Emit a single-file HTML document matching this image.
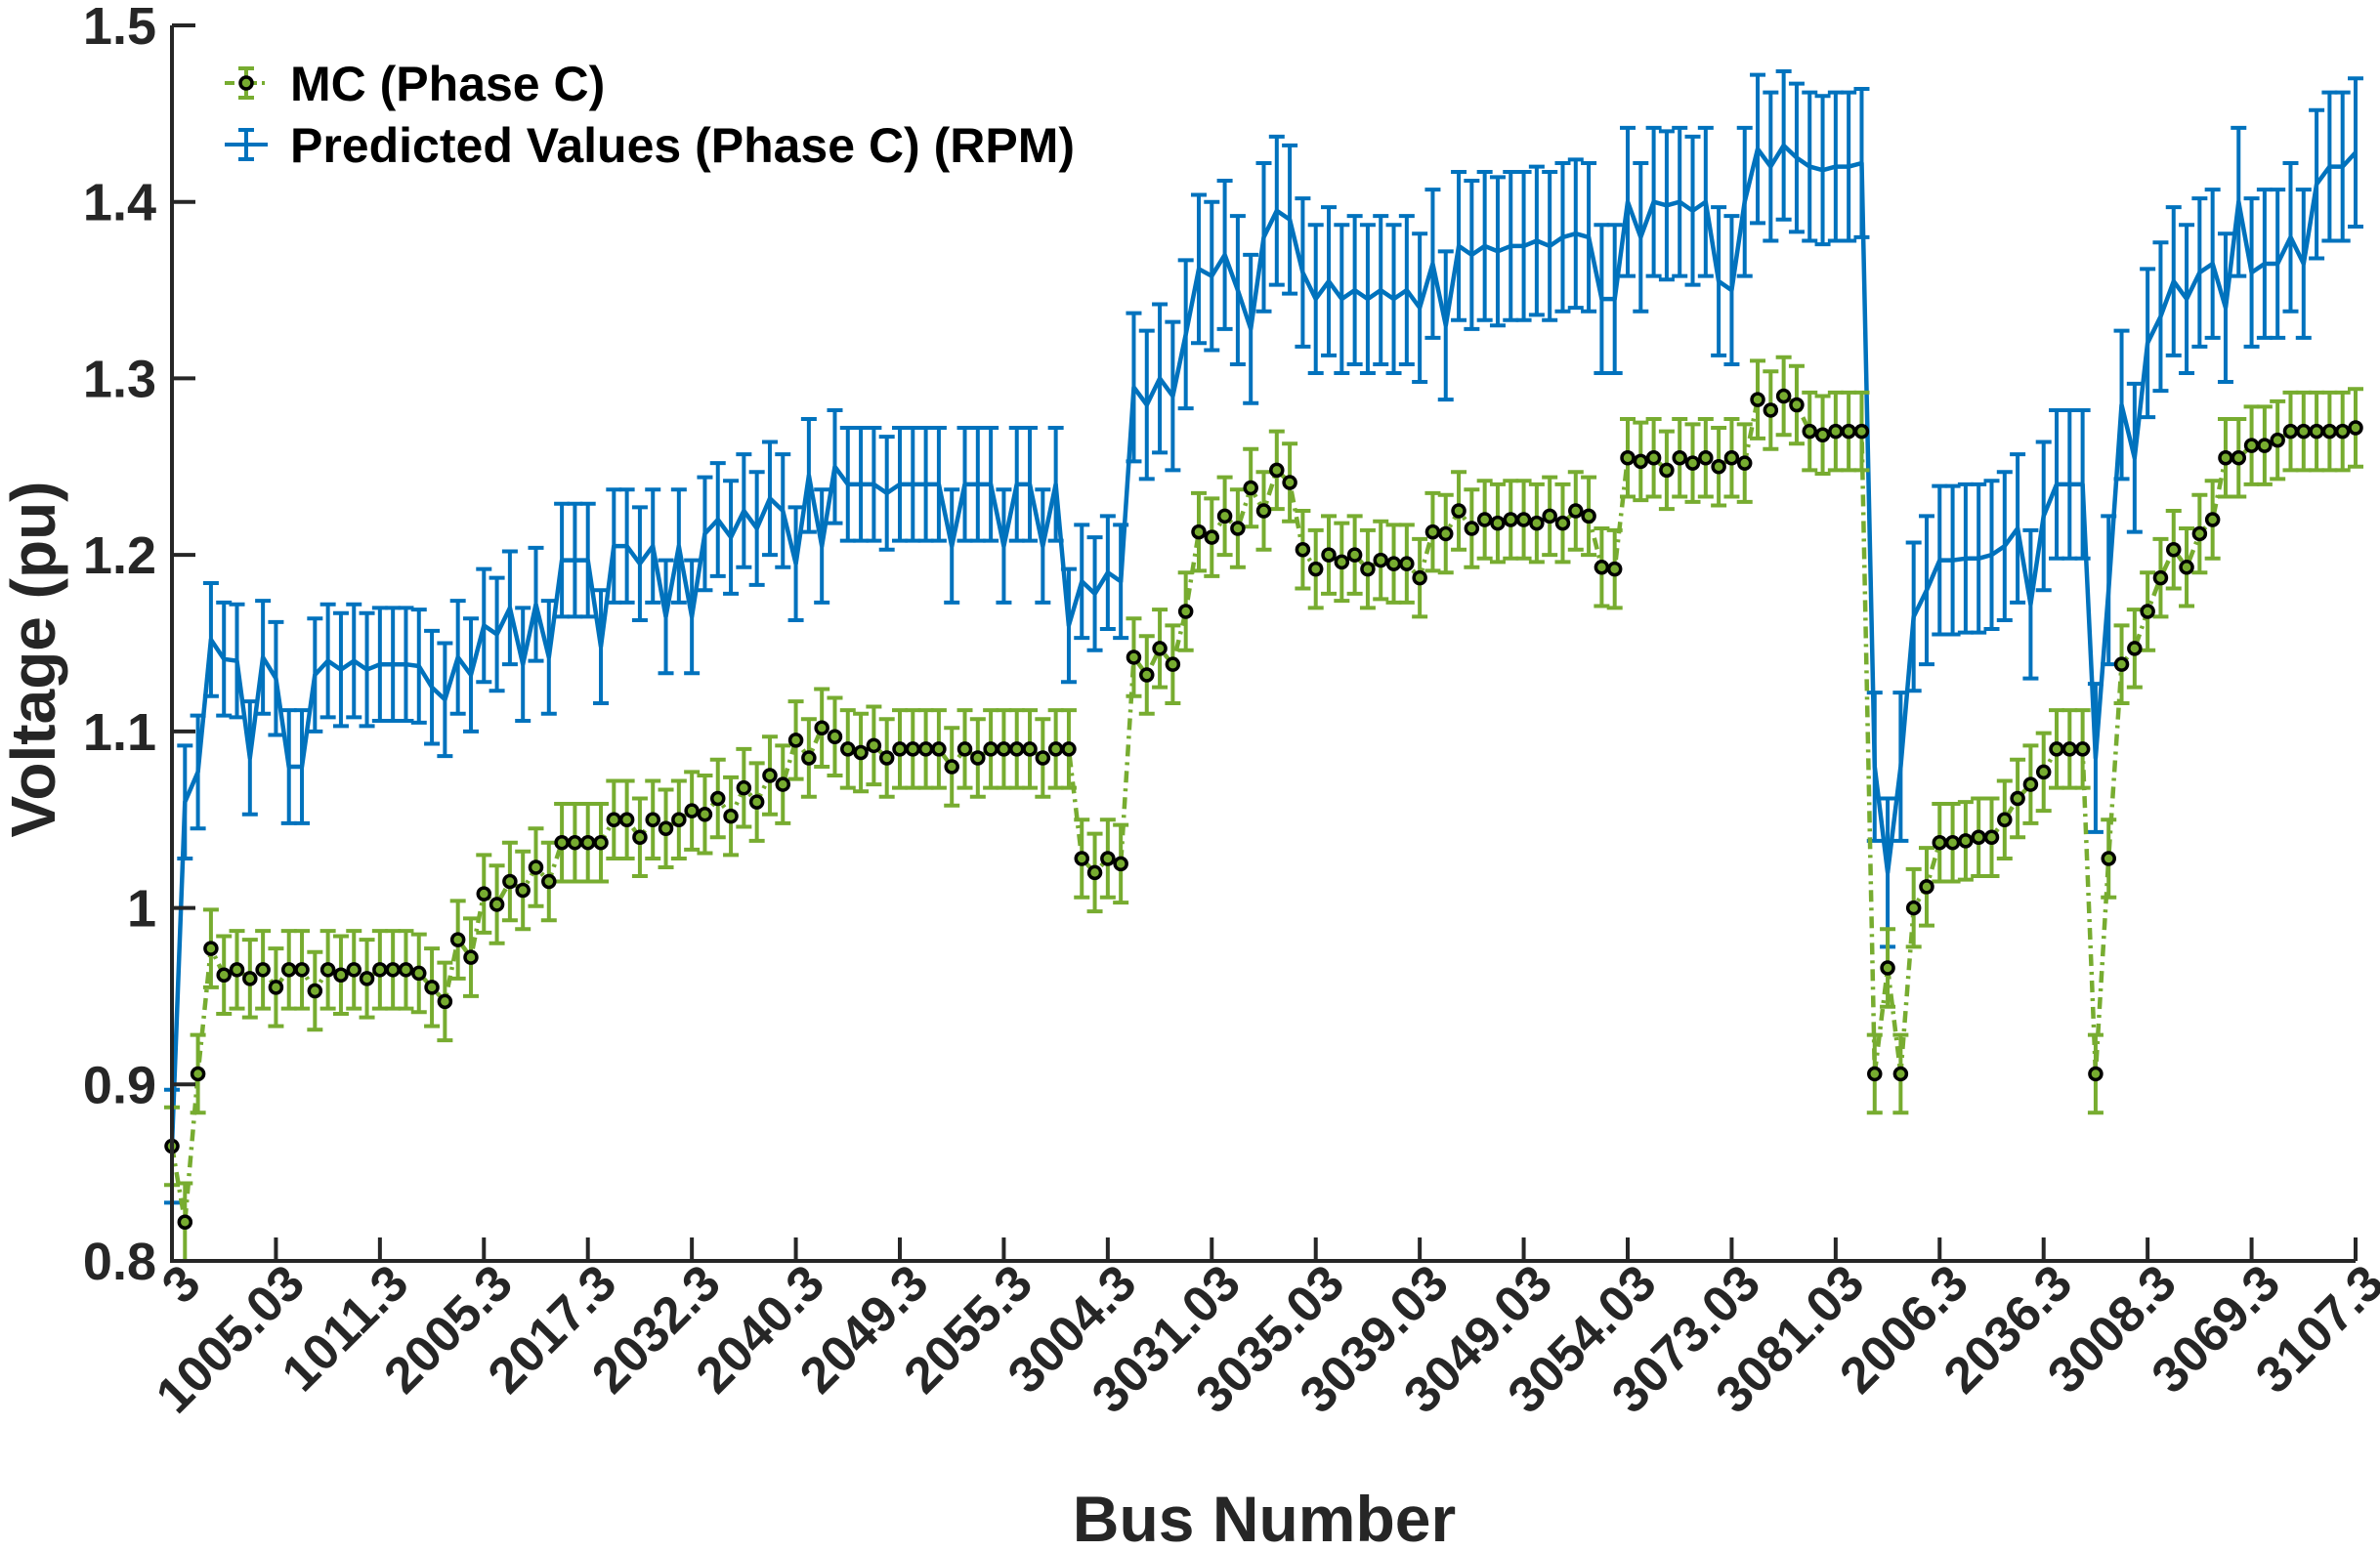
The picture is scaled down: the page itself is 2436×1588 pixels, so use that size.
<!DOCTYPE html>
<html><head><meta charset="utf-8"><style>
html,body{margin:0;padding:0;background:#fff}
svg{display:block;font-family:"Liberation Sans",Arial,sans-serif;font-weight:bold}
</style></head><body>
<svg id="chart" width="2436" height="1588" viewBox="0 0 2436 1588" xmlns="http://www.w3.org/2000/svg">
<g id="grid"></g>
<g id="series"></g>
<g id="axes"></g>
<text transform="translate(56,675) rotate(-90)" text-anchor="middle" font-size="64" fill="#262626">Voltage (pu)</text>
<text x="1294" y="1578" text-anchor="middle" font-size="66" fill="#262626">Bus Number</text>
<g>
  <g>
    <line x1="230" y1="85" x2="274" y2="85" stroke="#77AC30" stroke-width="4" stroke-dasharray="10,5,3,5"/>
    <line x1="252" y1="70" x2="252" y2="100" stroke="#77AC30" stroke-width="4"/>
    <line x1="244" y1="70" x2="260" y2="70" stroke="#77AC30" stroke-width="4"/>
    <line x1="244" y1="100" x2="260" y2="100" stroke="#77AC30" stroke-width="4"/>
    <circle cx="252" cy="85" r="6" fill="#77AC30" stroke="#000" stroke-width="3.5"/>
    <text x="297" y="103" font-size="50" fill="#000">MC (Phase C)</text>
  </g>
  <g>
    <line x1="230" y1="148" x2="274" y2="148" stroke="#0072BD" stroke-width="4"/>
    <line x1="252" y1="133" x2="252" y2="163" stroke="#0072BD" stroke-width="4"/>
    <line x1="244" y1="133" x2="260" y2="133" stroke="#0072BD" stroke-width="4"/>
    <line x1="244" y1="163" x2="260" y2="163" stroke="#0072BD" stroke-width="4"/>
    <text x="297" y="166" font-size="50" fill="#000">Predicted Values (Phase C) (RPM)</text>
  </g>
</g>
</svg>
<script>
const tickLabels=['3','1005.03','1011.3','2005.3','2017.3','2032.3','2040.3','2049.3','2055.3','3004.3','3031.03','3035.03','3039.03','3049.03','3054.03','3073.03','3081.03','2006.3','2036.3','3008.3','3069.3','3107.3'];
const yTicks=[0.8,0.9,1,1.1,1.2,1.3,1.4,1.5];
const mcValues=[0.865,0.822,0.906,0.977,0.962,0.965,0.960,0.965,0.955,0.965,0.965,0.953,0.965,0.962,0.965,0.960,0.965,0.965,0.965,0.963,0.955,0.947,0.982,0.972,1.008,1.002,1.015,1.010,1.023,1.015,1.037,1.037,1.037,1.037,1.050,1.050,1.040,1.050,1.045,1.050,1.055,1.053,1.062,1.052,1.068,1.060,1.075,1.070,1.095,1.085,1.102,1.097,1.090,1.088,1.092,1.085,1.090,1.090,1.090,1.090,1.080,1.090,1.085,1.090,1.090,1.090,1.090,1.085,1.090,1.090,1.028,1.020,1.028,1.025,1.142,1.132,1.147,1.138,1.168,1.213,1.210,1.222,1.215,1.238,1.225,1.248,1.241,1.203,1.192,1.200,1.196,1.200,1.192,1.197,1.195,1.195,1.187,1.213,1.212,1.225,1.215,1.220,1.218,1.220,1.220,1.218,1.222,1.218,1.225,1.222,1.193,1.192,1.255,1.253,1.255,1.248,1.255,1.252,1.255,1.250,1.255,1.252,1.288,1.282,1.290,1.285,1.270,1.268,1.270,1.270,1.270,0.906,0.966,0.906,1.000,1.012,1.037,1.037,1.038,1.040,1.040,1.050,1.062,1.070,1.077,1.090,1.090,1.090,0.906,1.028,1.138,1.147,1.168,1.187,1.203,1.193,1.212,1.220,1.255,1.255,1.262,1.262,1.265,1.270,1.270,1.270,1.270,1.270,1.272];
const mcErr=0.022;
const rpmValues=[0.865,1.060,1.077,1.152,1.141,1.140,1.085,1.142,1.130,1.080,1.080,1.132,1.140,1.135,1.140,1.135,1.138,1.138,1.138,1.137,1.125,1.118,1.142,1.132,1.160,1.155,1.170,1.138,1.172,1.142,1.197,1.197,1.197,1.148,1.205,1.205,1.195,1.205,1.165,1.205,1.165,1.212,1.220,1.210,1.225,1.215,1.232,1.225,1.195,1.245,1.205,1.250,1.240,1.240,1.240,1.235,1.240,1.240,1.240,1.240,1.205,1.240,1.240,1.240,1.205,1.240,1.240,1.205,1.240,1.160,1.185,1.178,1.190,1.185,1.295,1.285,1.300,1.290,1.325,1.362,1.358,1.370,1.350,1.328,1.380,1.395,1.390,1.360,1.345,1.355,1.345,1.350,1.345,1.350,1.345,1.350,1.340,1.365,1.330,1.375,1.370,1.375,1.372,1.375,1.375,1.378,1.375,1.380,1.382,1.380,1.345,1.345,1.400,1.380,1.400,1.398,1.400,1.395,1.400,1.355,1.350,1.400,1.430,1.420,1.432,1.425,1.420,1.418,1.420,1.420,1.422,1.080,1.020,1.080,1.165,1.180,1.197,1.197,1.198,1.198,1.200,1.205,1.215,1.172,1.222,1.240,1.240,1.240,1.085,1.180,1.285,1.255,1.320,1.335,1.355,1.345,1.360,1.365,1.340,1.400,1.360,1.365,1.365,1.380,1.365,1.410,1.420,1.420,1.428];
const rpmErrLow=0.032, rpmErrHigh=0.042;

const L=176,R=2411,T=26,B=1291,N=mcValues.length;
const xs=i=>L+(R-L)*i/(N-1);
const ys=v=>B-(v-0.8)/(1.5-0.8)*(B-T);
const NS='http://www.w3.org/2000/svg';
function mk(tag,attrs,parent){const e=document.createElementNS(NS,tag);for(const k in attrs)e.setAttribute(k,attrs[k]);parent.appendChild(e);return e;}
const S=document.getElementById('series'),A=document.getElementById('axes');

let d='';
rpmValues.forEach((v,i)=>{d+=(i?'L':'M')+xs(i).toFixed(1)+' '+ys(v).toFixed(1);});
const rpmG=mk('g',{},S);


rpmValues.forEach((v,i)=>{
  const e=i<74?rpmErrLow:rpmErrHigh,x=xs(i);
  const eb=mk('path',{d:`M${x} ${ys(v-e)}L${x} ${ys(v+e)}M${x-8} ${ys(v-e)}L${x+8} ${ys(v-e)}M${x-8} ${ys(v+e)}L${x+8} ${ys(v+e)}`,stroke:'#0072BD','stroke-width':4,fill:'none'},rpmG);
  
  
});
const rl=mk('path',{d:d,stroke:'#0072BD','stroke-width':4.5,fill:'none','stroke-linejoin':'round'},rpmG);



const mcG=mk('g',{},S);


mcValues.forEach((v,i)=>{
  const x=xs(i);
  const eb=mk('path',{d:`M${x} ${ys(v-mcErr)}L${x} ${ys(v+mcErr)}M${x-8} ${ys(v-mcErr)}L${x+8} ${ys(v-mcErr)}M${x-8} ${ys(v+mcErr)}L${x+8} ${ys(v+mcErr)}`,stroke:'#77AC30','stroke-width':4,fill:'none'},mcG);
  
  
});
let d2='';
mcValues.forEach((v,i)=>{d2+=(i?'L':'M')+xs(i).toFixed(1)+' '+ys(v).toFixed(1);});
const ml=mk('path',{d:d2,stroke:'#77AC30','stroke-width':4.5,fill:'none','stroke-dasharray':'12,6,3,6'},mcG);


mcValues.forEach((v,i)=>{
  const c=mk('circle',{cx:xs(i),cy:ys(v),r:6,fill:'#77AC30',stroke:'#000','stroke-width':3.5},mcG);
  
  
});

const ax=mk('path',{d:`M${L} ${T}L${L} ${B}L${R} ${B}`,stroke:'#262626','stroke-width':4,fill:'none'},A);


yTicks.forEach(v=>{
  const y=ys(v);
  const t=mk('line',{x1:L,y1:y,x2:L+24,y2:y,stroke:'#262626','stroke-width':4},A);
  
  
  const tx=mk('text',{x:160,y:y+19,'text-anchor':'end','font-size':54,fill:'#262626'},A);
  tx.textContent=String(v===1?'1':v.toFixed(1));
  
  
});
tickLabels.forEach((lab,k)=>{
  const x=xs(k*8);
  const t=mk('line',{x1:x,y1:B,x2:x,y2:B-24,stroke:'#262626','stroke-width':4},A);
  
  
  const tx=mk('text',{transform:`translate(${x+32},${B+26}) rotate(-45)`,'text-anchor':'end','font-size':52,fill:'#262626'},A);
  tx.textContent=lab;
  
  
});
</script>
</body></html>
